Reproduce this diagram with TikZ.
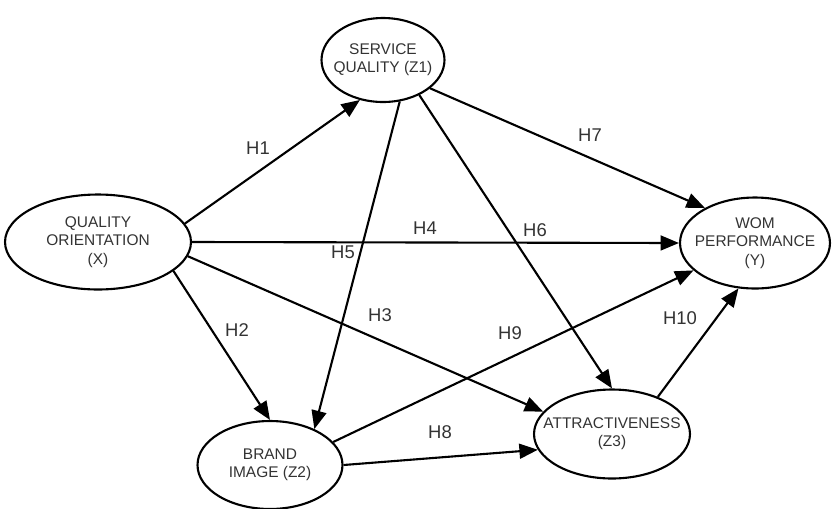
\documentclass[tikz,border=0pt]{standalone}
\usepackage{fontspec}
\setmainfont{Liberation Sans}
\usetikzlibrary{shapes.geometric,arrows.meta}

\begin{document}
\begin{tikzpicture}[x=0.02cm,y=-0.02cm,
  every node/.style={font=\fontsize{8.8}{10.4}\selectfont,text=black!80},
  latent/.style={draw,ellipse,line width=1.2pt,inner xsep=-0.5cm,inner ysep=0pt,align=center},
  hyp/.style={-{Triangle[length=10.5pt,width=8.5pt]},line width=1.2pt},
  hlabel/.style={font=\fontsize{10.5}{12}\selectfont}]
  \useasboundingbox (0,0) rectangle (832,508);
  % constructs
  \node[latent,minimum width=3.72cm,minimum height=1.9cm] (qo) at (98,242) {QUALITY\\ORIENTATION\\(X)};
  \node[latent,minimum width=2.46cm,minimum height=1.68cm] (sq) at (383,60) {SERVICE\\QUALITY (Z1)};
  \node[latent,minimum width=2.9cm,minimum height=1.76cm] (bi) at (270,465) {BRAND\\IMAGE (Z2)};
  \node[latent,minimum width=3.12cm,minimum height=1.78cm] (at) at (612,434) {ATTRACTIVENESS\\(Z3)};
  \node[latent,minimum width=3.0cm,minimum height=1.82cm] (wom) at (755,243) {WOM\\PERFORMANCE\\(Y)};
  % hypotheses
  \draw[hyp] (qo.12) -- (sq.-120);
  \draw[hyp] (qo.-21) -- (bi.90);
  \draw[hyp] (qo.-9) -- (at.162);
  \draw[hyp] (qo.0) -- (wom.180);
  \draw[hyp] (sq.-68) -- (bi.39);
  \draw[hyp] (sq.-44) -- (at.90);
  \draw[hyp] (sq.-31) -- (wom.145);
  \draw[hyp] (bi.0) -- (at.-168);
  \draw[hyp] (bi.20) -- (wom.-156);
  \draw[hyp] (at.39) -- (wom.-110);
  % labels
  \node[hlabel] (h1) at (258,148) {H1};
  \node[hlabel] (h2) at (237,330) {H2};
  \node[hlabel] (h3) at (380,315) {H3};
  \node[hlabel] (h4) at (425,228) {H4};
  \node[hlabel] (h5) at (343,252) {H5};
  \node[hlabel] (h6) at (535,230) {H6};
  \node[hlabel] (h7) at (590,135) {H7};
  \node[hlabel] (h8) at (440,432) {H8};
  \node[hlabel] (h9) at (510,333) {H9};
  \node[hlabel] (h10) at (680,318) {H10};
\end{tikzpicture}
\end{document}
